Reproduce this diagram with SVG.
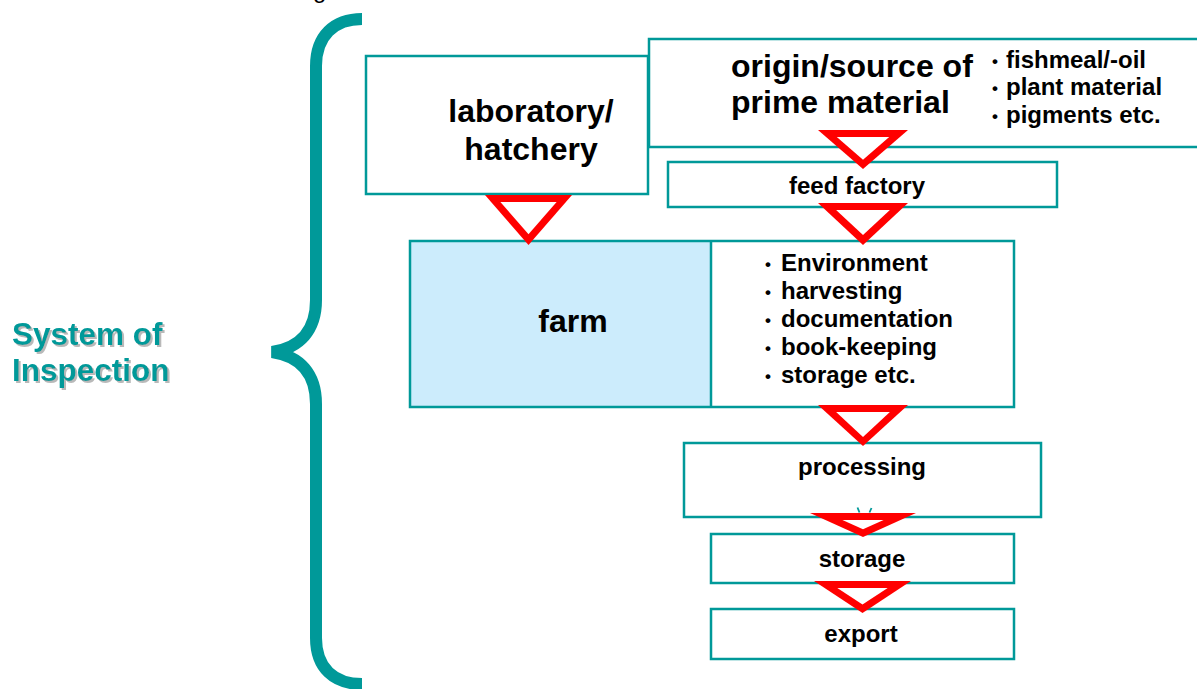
<svg xmlns="http://www.w3.org/2000/svg" width="1197" height="689" viewBox="0 0 1197 689">
<style>
  .box { fill: #ffffff; stroke: #009999; stroke-width: 2.5; }
  .farmfill { fill: #CCECFC; stroke: none; }
  .big { font-family: "Liberation Sans", Arial, sans-serif; font-weight: bold; font-size: 32px; fill: #000; }
  .mid { font-family: "Liberation Sans", Arial, sans-serif; font-weight: bold; font-size: 24px; fill: #000; }
  .dot { font-family: "Liberation Sans", Arial, sans-serif; font-weight: bold; font-size: 17px; fill: #000; }
  .side { font-family: "Liberation Sans", Arial, sans-serif; font-weight: bold; font-size: 31.5px; fill: #009999; filter: url(#shadow); }
  .tri-out { fill: #FF0000; }
  .tri-in { fill: #FFFFFF; }
  .brace { fill: none; stroke: #009999; stroke-width: 12; }
  .tick { fill: none; stroke: #009999; stroke-width: 1.8; }
</style>
<defs>
  <filter id="shadow" x="-10%" y="-10%" width="130%" height="140%">
    <feDropShadow dx="2" dy="2" stdDeviation="0.6" flood-color="#a8a8a8" flood-opacity="0.8"/>
  </filter>
</defs>
<rect width="1197" height="689" fill="#ffffff"/>

<text x="313" y="-2" font-family="Liberation Sans, Arial, sans-serif" font-size="24" fill="#000">g</text>

<g id="brace">
  <path class="brace" d="M362,19 C334,19 316,36 316,66 L316,300 C316,330 300,348 272,352 C300,356 316,374 316,404 L316,638 C316,668 334,684 362,684"/>
</g>

<g id="system-label">
  <text class="side" x="12" y="345">System of</text>
  <text class="side" x="12" y="381">Inspection</text>
</g>

<g id="lab">
  <rect class="box" x="366" y="56" width="282" height="138"/>
  <text class="big" x="531" y="122" text-anchor="middle">laboratory/</text>
  <text class="big" x="531" y="160" text-anchor="middle">hatchery</text>
</g>

<g id="origin">
  <rect class="box" x="649" y="39" width="560" height="108"/>
  <text class="big" x="731" y="77">origin/source of</text>
  <text class="big" x="731" y="113">prime material</text>
  <text class="dot" x="992" y="67">•</text><text class="mid" x="1006" y="68">fishmeal/-oil</text>
  <text class="dot" x="992" y="94">•</text><text class="mid" x="1006" y="95">plant material</text>
  <text class="dot" x="992" y="122">•</text><text class="mid" x="1006" y="123">pigments etc.</text>
</g>

<g id="feed-factory">
  <rect class="box" x="668" y="162" width="389" height="45"/>
  <text class="mid" x="857" y="194" text-anchor="middle">feed factory</text>
</g>

<g id="farm">
  <rect class="farmfill" x="410" y="241" width="301" height="166"/>
  <rect x="410" y="241" width="604" height="166" fill="none" stroke="#009999" stroke-width="2.5"/>
  <line x1="711" y1="241" x2="711" y2="407" stroke="#009999" stroke-width="2.5"/>
  <text class="big" x="573" y="332" text-anchor="middle">farm</text>
  <text class="dot" x="765" y="270">•</text><text class="mid" x="781" y="271">Environment</text>
  <text class="dot" x="765" y="298">•</text><text class="mid" x="781" y="299">harvesting</text>
  <text class="dot" x="765" y="326">•</text><text class="mid" x="781" y="327">documentation</text>
  <text class="dot" x="765" y="354">•</text><text class="mid" x="781" y="355">book-keeping</text>
  <text class="dot" x="765" y="382">•</text><text class="mid" x="781" y="383">storage etc.</text>
</g>

<g id="processing">
  <rect class="box" x="684" y="443" width="357" height="74"/>
  <text class="mid" x="862" y="475" text-anchor="middle">processing</text>
</g>

<g id="storage">
  <rect class="box" x="711" y="534" width="303" height="49"/>
  <text class="mid" x="862" y="567" text-anchor="middle">storage</text>
</g>

<g id="export">
  <rect class="box" x="711" y="609" width="303" height="50"/>
  <text class="mid" x="861" y="642" text-anchor="middle">export</text>
</g>

<g id="connectors">
  <path class="tick" d="M857.5,507.5 L859.5,512.5 M871.5,508 L869.5,512.5"/>
  <polygon class="tri-out" points="818,130 908,130 863,169"/>
  <polygon class="tri-in" points="836.8,137 889.2,137 863,159.7"/>
  <polygon class="tri-out" points="818,203 908,203 863,245"/>
  <polygon class="tri-in" points="836.1,210 889.9,210 863,235.1"/>
  <polygon class="tri-out" points="485,195 572,195 528.5,245"/>
  <polygon class="tri-in" points="500.4,202 556.6,202 528.5,234.3"/>
  <polygon class="tri-out" points="818,405 908,405 863,446"/>
  <polygon class="tri-in" points="836.1,412 889.9,412 863,437.1"/>
  <polygon class="tri-out" points="810,513 916,513 863,537"/>
  <polygon class="tri-in" points="842.4,520 883.6,520 863,529.3"/>
  <polygon class="tri-out" points="814,581 911,581 862.5,613"/>
  <polygon class="tri-in" points="837.3,588 887.7,588 862.5,604.6"/>
</g>
</svg>
